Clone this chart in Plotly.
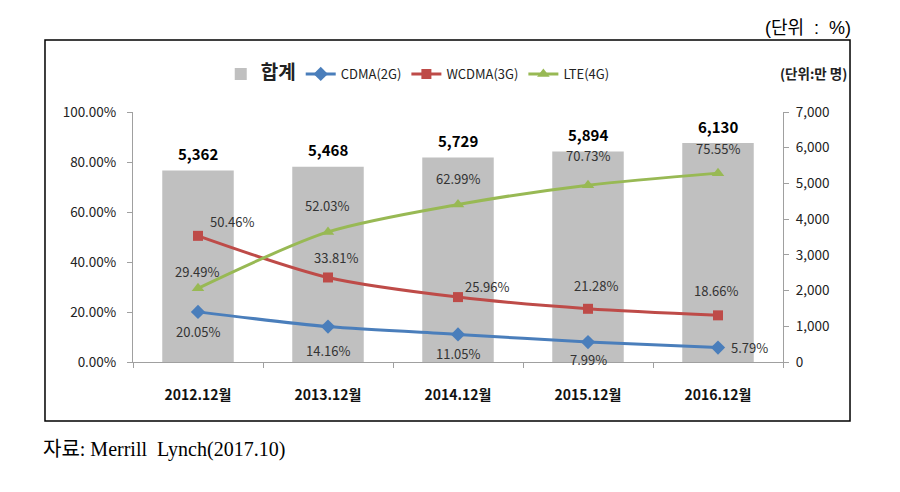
import plotly.graph_objects as go

categories = ["2012.12월", "2013.12월", "2014.12월", "2015.12월", "2016.12월"]
total = [5362, 5468, 5729, 5894, 6130]          # 만 명
cdma = [20.05, 14.16, 11.05, 7.99, 5.79]         # %
wcdma = [50.46, 33.81, 25.96, 21.28, 18.66]      # %
lte = [29.49, 52.03, 62.99, 70.73, 75.55]        # %

BLUE = "#4A7EBB"
RED = "#BE4B48"
GREEN = "#98B954"
BAR = "#C0C0C0"
FONT = "Noto Sans CJK KR, Noto Sans, sans-serif"

fig = go.Figure()

fig.add_trace(go.Bar(
    x=categories, y=total, name="<b><span style='font-size:19px'>합계</span></b>",
    marker=dict(color=BAR, line=dict(width=0)), width=0.55, yaxis="y",
))

def line_trace(vals, name, color, symbol, size):
    return go.Scatter(
        x=categories, y=[v / 100 for v in vals], name=name, yaxis="y2",
        mode="lines+markers", line=dict(color=color, width=3, shape="spline", smoothing=0.8),
        marker=dict(symbol=symbol, size=size, color=color),
    )

fig.add_trace(line_trace(cdma, "CDMA(2G)", BLUE, "diamond", 11))
fig.add_trace(line_trace(wcdma, "WCDMA(3G)", RED, "square", 10))
fig.add_trace(line_trace(lte, "LTE(4G)", GREEN, "triangle-up", 11))

annotations = []
# totals above bars
for c, t in zip(categories, total):
    annotations.append(dict(x=c, y=t, xref="x", yref="y", text=f"<b>{t:,}</b>",
                            showarrow=False, yshift=17,
                            font=dict(family=FONT, size=15, color="#000")))

cdma_off = [(0, -20), (0, -24), (0, -19), (0, -17), (31, 0)]
wcdma_off = [(34, 14), (8, 20), (29, 11), (8, 23), (-2, 25)]
lte_off = [(-1, 17), (-1, 26), (0, 26), (0, 30), (0, 25)]

for vals, offs in ((cdma, cdma_off), (wcdma, wcdma_off), (lte, lte_off)):
    for c, v, (dx, dy) in zip(categories, vals, offs):
        annotations.append(dict(x=c, y=v / 100, xref="x", yref="y2", text=f"{v:.2f}%",
                                showarrow=False, xshift=dx, yshift=dy,
                                font=dict(family=FONT, size=13, color="#333")))

annotations.append(dict(x=1.102, y=1.156, xref="paper", yref="paper", text="<b>(단위:만 명)</b>",
                        showarrow=False, xanchor="right", yanchor="middle",
                        font=dict(family=FONT, size=13.5, color="#222")))
annotations.append(dict(x=1.108, y=1.336, xref="paper", yref="paper", text="(단위  :  %)",
                        showarrow=False, xanchor="right", yanchor="middle",
                        font=dict(family="Liberation Sans, Noto Sans CJK KR", size=18, color="#000")))
annotations.append(dict(x=-0.141, y=-0.352, xref="paper", yref="paper", text="자료: Merrill  Lynch(2017.10)",
                        showarrow=False, xanchor="left", yanchor="middle",
                        font=dict(family="Liberation Serif, Noto Sans CJK KR", size=20, color="#000")))

fig.update_layout(
    width=892, height=484,
    margin=dict(l=125, r=117, t=104, b=130, autoexpand=False),
    paper_bgcolor="white", plot_bgcolor="white",
    font=dict(family=FONT, size=12, color="#222"),
    showlegend=True,
    legend=dict(orientation="h", x=0.135, y=1.152, xanchor="left", yanchor="middle",
                font=dict(family=FONT, size=13, color="#222"), itemwidth=30,
                bgcolor="rgba(0,0,0,0)", traceorder="normal"),
    bargap=0.45,
    xaxis=dict(type="category", showline=True, linecolor="#A0A0A0", linewidth=1,
               ticks="outside", tickson="boundaries", ticklen=5, tickcolor="#A0A0A0",
               tickfont=dict(family=FONT, size=14, color="#111", weight="bold"),
               ticklabelstandoff=20, showgrid=False, zeroline=False),
    yaxis=dict(side="right", range=[0, 7000], dtick=1000, tickformat=",",
               showline=True, linecolor="#A0A0A0", ticks="outside", ticklen=5, tickcolor="#A0A0A0",
               ticklabelstandoff=4,
               showgrid=False, zeroline=False, tickfont=dict(family=FONT, size=13.5, color="#222")),
    yaxis2=dict(side="left", overlaying="y", range=[0, 1], dtick=0.2, tickformat=".2%",
                showline=True, linecolor="#A0A0A0", ticks="outside", ticklen=5, tickcolor="#A0A0A0",
                ticklabelstandoff=8,
                showgrid=False, zeroline=False, tickfont=dict(family=FONT, size=13.5, color="#222")),
    annotations=annotations,
    shapes=[dict(type="rect", xref="paper", yref="paper", x0=-0.1354, x1=1.1031, y0=-0.236, y1=1.288,
                 line=dict(color="#000", width=1.5), fillcolor="rgba(0,0,0,0)", layer="below")],
)

fig.write_html("out.html")
